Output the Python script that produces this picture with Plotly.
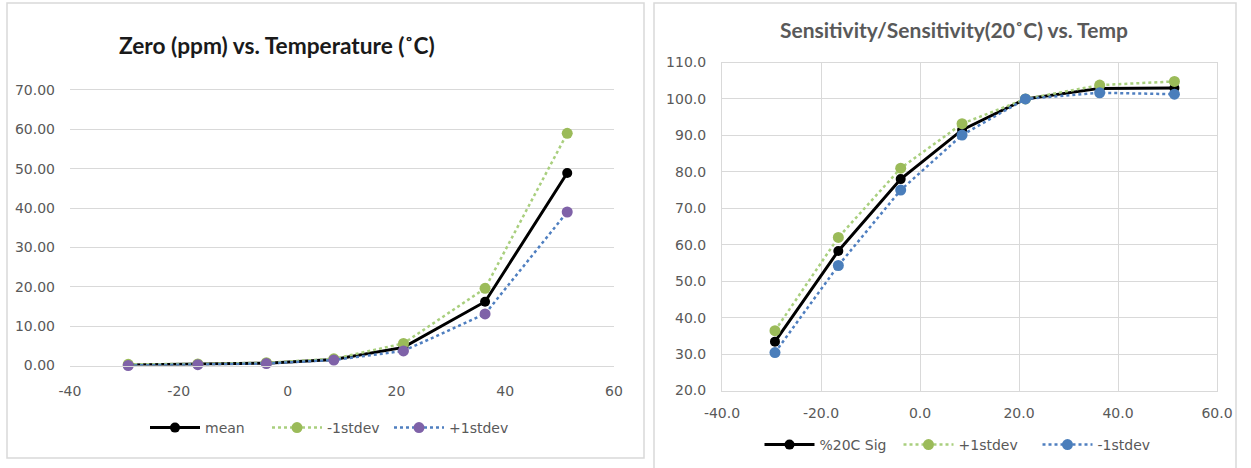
import plotly.graph_objects as go

# ---------------- data ----------------
temp = [-29.3, -16.5, -3.9, 8.5, 21.3, 36.3, 51.4]

zero_mean = [0.1, 0.3, 0.6, 1.5, 4.6, 16.2, 48.9]
zero_minus1 = [0.3, 0.4, 0.7, 1.7, 5.6, 19.6, 59.0]
zero_plus1 = [0.0, 0.2, 0.5, 1.4, 3.7, 13.1, 39.0]

sens_sig = [33.4, 58.3, 78.0, 91.5, 100.0, 102.9, 103.0]
sens_plus1 = [36.4, 62.0, 81.0, 93.2, 100.0, 103.8, 104.8]
sens_minus1 = [30.4, 54.3, 75.0, 90.1, 100.0, 101.7, 101.3]

left_xticks = [-40, -20, 0, 20, 40, 60]
left_xticktext = ["-40", "-20", "0", "20", "40", "60"]
left_yticks = [0, 10, 20, 30, 40, 50, 60, 70]
left_yticktext = ["0.00", "10.00", "20.00", "30.00", "40.00", "50.00", "60.00", "70.00"]

right_xticks = [-40, -20, 0, 20, 40, 60]
right_xticktext = ["-40.0", "-20.0", "0.0", "20.0", "40.0", "60.0"]
right_yticks = [20, 30, 40, 50, 60, 70, 80, 90, 100, 110]
right_yticktext = ["20.0", "30.0", "40.0", "50.0", "60.0", "70.0", "80.0", "90.0", "100.0", "110.0"]

left_title = "Zero (ppm) vs. Temperature (˚C)"
right_title = "Sensitivity/Sensitivity(20˚C) vs. Temp"

# ---------------- styles ----------------
W, H = 1251, 468
FONT = "'DejaVu Sans', sans-serif"
TFONT = "Lato, 'Open Sans', sans-serif"
GRID = "#D9D9D9"
TXT = "#595959"
GREEN = "#9BBB59"
GREEN_LINE = "#A9CF7E"
PURPLE = "#7F62A8"
BLUE = "#4A7EBB"
BLUE_LINE = "#4F7FC0"


def px_x(p):
    return p / W


def px_y(p):
    return 1 - p / H


fig = go.Figure()

# Left chart
fig.add_trace(go.Scatter(x=temp, y=zero_mean, name="mean", mode="lines+markers",
                         line=dict(color="black", width=3),
                         marker=dict(color="black", size=10),
                         xaxis="x", yaxis="y", legend="legend", cliponaxis=False))
fig.add_trace(go.Scatter(x=temp, y=zero_minus1, name="-1stdev", mode="lines+markers",
                         line=dict(color=GREEN_LINE, width=2.5, dash="dot"),
                         marker=dict(color=GREEN, size=11),
                         xaxis="x", yaxis="y", legend="legend", cliponaxis=False))
fig.add_trace(go.Scatter(x=temp, y=zero_plus1, name="+1stdev", mode="lines+markers",
                         line=dict(color=BLUE_LINE, width=2.5, dash="dot"),
                         marker=dict(color=PURPLE, size=11),
                         xaxis="x", yaxis="y", legend="legend", cliponaxis=False))

# Right chart
fig.add_trace(go.Scatter(x=temp, y=sens_sig, name="%20C Sig", mode="lines+markers",
                         line=dict(color="black", width=3),
                         marker=dict(color="black", size=10),
                         xaxis="x2", yaxis="y2", legend="legend2", cliponaxis=False))
fig.add_trace(go.Scatter(x=temp, y=sens_plus1, name="+1stdev", mode="lines+markers",
                         line=dict(color=GREEN_LINE, width=2.5, dash="dot"),
                         marker=dict(color=GREEN, size=11),
                         xaxis="x2", yaxis="y2", legend="legend2", cliponaxis=False))
fig.add_trace(go.Scatter(x=temp, y=sens_minus1, name="-1stdev", mode="lines+markers",
                         line=dict(color=BLUE_LINE, width=2.5, dash="dot"),
                         marker=dict(color=BLUE, size=11),
                         xaxis="x2", yaxis="y2", legend="legend2", cliponaxis=False))

tickfont = dict(family=FONT, size=14, color=TXT)

fig.update_layout(
    width=W, height=H,
    margin=dict(l=0, r=0, t=0, b=0, pad=0),
    paper_bgcolor="white", plot_bgcolor="white",
    font=dict(family=FONT, size=14, color=TXT),
    hovermode=False,
    xaxis=dict(domain=[px_x(70), px_x(614)], range=[-40, 60],
               tickvals=left_xticks, ticktext=left_xticktext,
               showgrid=False, zeroline=False, showline=True, mirror=True,
               linecolor=GRID, linewidth=1, ticks="", tickfont=tickfont,
               ticklabelstandoff=13, automargin=False, anchor="y"),
    yaxis=dict(domain=[px_y(365.5), px_y(90)], range=[0, 70],
               tickvals=left_yticks, ticktext=left_yticktext,
               showgrid=True, gridcolor=GRID, gridwidth=1, zeroline=False,
               showline=False, ticks="", tickfont=tickfont,
               ticklabelstandoff=14, automargin=False, anchor="x"),
    xaxis2=dict(domain=[px_x(722), px_x(1217)], range=[-40, 60],
                tickvals=right_xticks, ticktext=right_xticktext,
                showgrid=True, gridcolor=GRID, zeroline=False, showline=True,
                mirror=True, linecolor=GRID, linewidth=1, ticks="",
                tickfont=tickfont, ticklabelstandoff=10, automargin=False,
                anchor="y2"),
    yaxis2=dict(domain=[px_y(390.5), px_y(62.5)], range=[20, 110],
                tickvals=right_yticks, ticktext=right_yticktext,
                showgrid=True, gridcolor=GRID, zeroline=False, showline=True,
                mirror=True, linecolor=GRID, linewidth=1, ticks="",
                tickfont=tickfont, ticklabelstandoff=12, automargin=False,
                anchor="x2"),
    legend=dict(orientation="h", x=px_x(328), xanchor="center",
                y=px_y(428), yanchor="middle", itemwidth=50,
                entrywidth=57, entrywidthmode="pixels",
                font=dict(family=FONT, size=14, color=TXT),
                bgcolor="rgba(0,0,0,0)"),
    legend2=dict(orientation="h", x=px_x(968), xanchor="center",
                 y=px_y(445), yanchor="middle", itemwidth=50,
                 entrywidth=74, entrywidthmode="pixels",
                 font=dict(family=FONT, size=14, color=TXT),
                 bgcolor="rgba(0,0,0,0)"),
    annotations=[
        dict(text="<b>" + left_title + "</b>", x=px_x(277), y=px_y(46),
             xref="paper", yref="paper", xanchor="center", yanchor="middle",
             showarrow=False, font=dict(family=TFONT, size=22.7, color="#1a1a1a")),
        dict(text="<b>" + right_title + "</b>", x=px_x(954), y=px_y(29.5),
             xref="paper", yref="paper", xanchor="center", yanchor="middle",
             showarrow=False, font=dict(family=TFONT, size=21, color=TXT)),
    ],
    shapes=[
        dict(type="rect", xref="paper", yref="paper",
             x0=px_x(7), x1=px_x(644), y0=px_y(458), y1=px_y(3),
             line=dict(color=GRID, width=1.5), fillcolor="rgba(0,0,0,0)", layer="below"),
        dict(type="rect", xref="paper", yref="paper",
             x0=px_x(654), x1=px_x(1236), y0=px_y(475), y1=px_y(3),
             line=dict(color=GRID, width=1.5), fillcolor="rgba(0,0,0,0)", layer="below"),
    ],
    showlegend=True,
)

fig.write_html("out.html", config={"displayModeBar": False},
               post_script="document.body.style.margin = '0px';")
